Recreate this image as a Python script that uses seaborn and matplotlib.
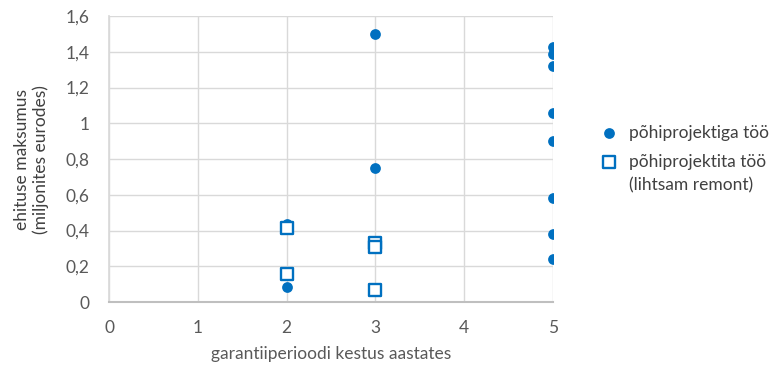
import numpy as np
import pandas as pd
import matplotlib
matplotlib.use('Agg')
import matplotlib.pyplot as plt
import seaborn as sns

# andmed (loetud jooniselt)
with_x = [2, 2, 3, 3, 5, 5, 5, 5, 5, 5, 5, 5]
with_y = [0.435, 0.085, 1.5, 0.75, 1.43, 1.39, 1.32, 1.06, 0.90, 0.58, 0.38, 0.24]
without_x = [2, 2, 3, 3, 3]
without_y = [0.415, 0.155, 0.33, 0.31, 0.07]

x_ticks = [0, 1, 2, 3, 4, 5]
y_ticks = [0, 0.2, 0.4, 0.6, 0.8, 1.0, 1.2, 1.4, 1.6]
y_labels = ['0', '0,2', '0,4', '0,6', '0,8', '1', '1,2', '1,4', '1,6']

sns.set_theme(style='white')
plt.rcParams['font.family'] = ['Lato', 'DejaVu Sans']

blue = '#0070C0'
txt = '#595959'

df_with = pd.DataFrame({'x': with_x, 'y': with_y})
df_without = pd.DataFrame({'x': without_x, 'y': without_y})

fig = plt.figure(figsize=(7.76, 3.67), dpi=100)
ax = fig.add_axes([0.1405, 0.177, 0.572, 0.779])

sns.scatterplot(data=df_with, x='x', y='y', ax=ax, marker='o', s=60, color=blue,
                edgecolor=blue, linewidth=0, label='põhiprojektiga töö', zorder=3)
sns.scatterplot(data=df_without, x='x', y='y', ax=ax, marker='s', s=65, facecolor='white',
                edgecolor=blue, linewidth=1.7, label='põhiprojektita töö', zorder=4)

ax.set_xlim(0, 5)
ax.set_ylim(0, 1.6)
ax.set_xticks(x_ticks)
ax.set_yticks(y_ticks)
ax.set_yticklabels(y_labels)
ax.grid(True, color='#d9d9d9', linewidth=1)
ax.set_axisbelow(True)
for side in ['top', 'right']:
    ax.spines[side].set_visible(False)
ax.spines['left'].set_color('#d9d9d9')
ax.spines['bottom'].set_color('#bfbfbf')
ax.spines['bottom'].set_linewidth(1.5)
ax.tick_params(axis='both', colors=txt, labelsize=12.5, length=0)
ax.tick_params(axis='x', pad=13)
ax.tick_params(axis='y', pad=14)

ax.set_xlabel('garantiiperioodi kestus aastates', color=txt, fontsize=12.5, labelpad=7)
ax.set_ylabel('ehituse maksumus\n(miljonites eurodes)', color='#404040', fontsize=12.5, labelpad=12)

handles, labels = ax.get_legend_handles_labels()
ax.get_legend().remove()
leg = fig.legend(handles, labels, loc='upper left', bbox_to_anchor=(0.748, 0.703),
                 frameon=False, fontsize=12.5, labelcolor='#404040', handletextpad=0.4,
                 labelspacing=0.75, handlelength=1.5)
fig.canvas.draw()
t2 = leg.get_texts()[1]
bb = t2.get_window_extent().transformed(fig.transFigure.inverted())
fig.text(bb.x0, bb.y0 - 0.02, '(lihtsam remont)', fontsize=12.5, color='#404040',
         ha='left', va='top')

fig.savefig('out.png', dpi=100)
